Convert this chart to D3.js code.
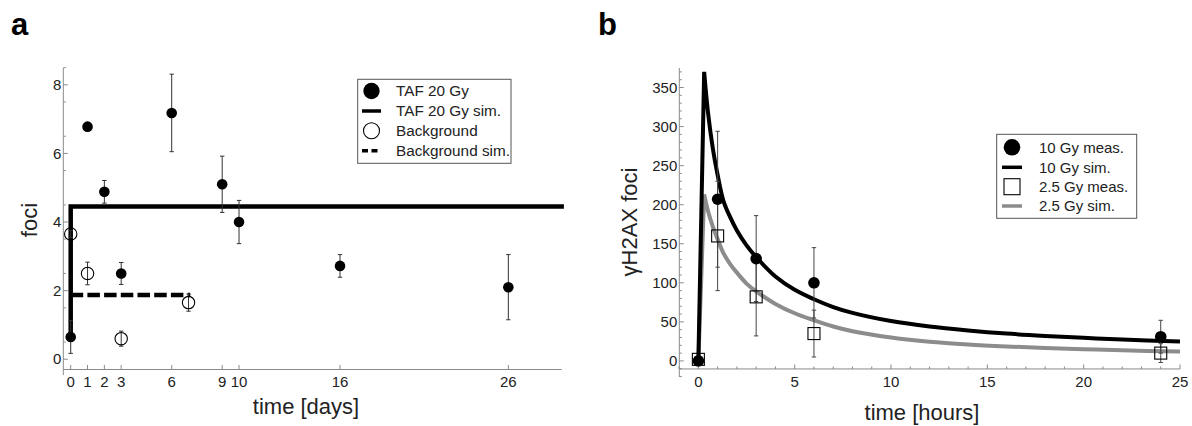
<!DOCTYPE html>
<html><head><meta charset="utf-8">
<script src="https://cdn.jsdelivr.net/npm/d3@7"></script>
<style>
body{margin:0;background:#fff;}
svg{display:block;font-family:"Liberation Sans",Arial,sans-serif;}
</style></head>
<body><svg id="c" width="1192" height="426"></svg>
<script>
// ---------- Panel a data ----------
const aXTicks = [0,1,2,3,6,9,10,16,26];
const aYTicks = [0,2,4,6,8];
const tafDays = [0,1,2,3,6,9,10,16,26];
const tafFoci = [0.65,6.78,4.88,2.5,7.18,5.1,4.0,2.72,2.1];
const tafErr  = [0.48,0.12,0.33,0.32,1.13,0.82,0.63,0.33,0.95];
const bgDays = [0,1,3,7];
const bgFoci = [3.65,2.5,0.6,1.65];
const bgErr  = [0.1,0.33,0.22,0.25];
const tafSimDays = [0,0,29.3];
const tafSimFoci = [0.65,4.45,4.45];
const bgSimDays = [0,7.1];
const bgSimFoci = [1.87,1.87];
const aLegend = ["TAF 20 Gy","TAF 20 Gy sim.","Background","Background sim."];

// ---------- Panel b data ----------
const bXTicks = [0,5,10,15,20,25];
const bYTicks = [0,50,100,150,200,250,300,350];
const measHours = [0,1,3,6,24];
const gy10Meas = [0,207,131,100,31];
const gy10Err  = [4,87,55,45,21];
const gy25Meas = [2,160,82,35,10];
const gy25Err  = [4,70,50,30,12];
const simHours = [0,0.3,0.5,0.75,1,1.3,1.65,2,2.5,3,4,5,6,7,8,10,12,14,16,18,20,22,25];
const gy10Sim  = [0,370,318,272,238,205,184,167,148,133,108,91,79,69,61.5,51,44,39,35,32,29.5,27.3,25];
const gy25Sim  = [0,213,192,172,156,138,124,113,99,89,73,61,52,44,38,30,24.5,21,18.5,16.5,15,13.5,12];
const bLegend = ["10 Gy meas.","10 Gy sim.","2.5 Gy meas.","2.5 Gy sim."];

const svg = d3.select("#c");
const AX = "#8a8a8a", TXT = "#222", ERR = "#333", GRAY = "#8c8c8c";

function drawAxes(g, x, y, xAxisVal, yAxisVal, xMajor, xMinor, yMajor, yMinor, xLabY){
  const [x0,x1] = x.range(), [y0,y1] = y.range();
  const xa = y(xAxisVal), ya = x(yAxisVal);
  g.append("line").attr("x1",x0).attr("x2",x1).attr("y1",xa).attr("y2",xa).attr("stroke",AX).attr("stroke-width",1);
  g.append("line").attr("x1",ya).attr("x2",ya).attr("y1",y0).attr("y2",y1).attr("stroke",AX).attr("stroke-width",1);
  xMinor.forEach(v=>g.append("line").attr("x1",x(v)).attr("x2",x(v)).attr("y1",xa).attr("y2",xa-2.5).attr("stroke",AX));
  xMajor.forEach(v=>g.append("line").attr("x1",x(v)).attr("x2",x(v)).attr("y1",xa).attr("y2",xa-4.5).attr("stroke",AX));
  yMinor.forEach(v=>g.append("line").attr("x1",ya).attr("x2",ya+2.5).attr("y1",y(v)).attr("y2",y(v)).attr("stroke",AX));
  yMajor.forEach(v=>g.append("line").attr("x1",ya).attr("x2",ya+4.5).attr("y1",y(v)).attr("y2",y(v)).attr("stroke",AX));
  g.selectAll(null).data(xMajor).join("text").attr("x",d=>x(d)).attr("y",xLabY)
    .attr("text-anchor","middle").attr("font-size",15).attr("fill",TXT).text(d=>d);
  g.selectAll(null).data(yMajor).join("text").attr("x",ya-2).attr("y",d=>y(d)).attr("dy","0.35em")
    .attr("text-anchor","end").attr("font-size",15).attr("fill",TXT).text(d=>d);
}

function errBars(g, xs, ys, es, x, y, color){
  xs.forEach((d,i)=>{
    const cx = x(d), t = y(ys[i]+es[i]), b = y(ys[i]-es[i]);
    g.append("line").attr("x1",cx).attr("x2",cx).attr("y1",t).attr("y2",b).attr("stroke",color).attr("stroke-width",1);
    [t,b].forEach(yy=>g.append("line").attr("x1",cx-2.2).attr("x2",cx+2.2).attr("y1",yy).attr("y2",yy).attr("stroke",color).attr("stroke-width",1));
  });
}

// ================= Panel a =================
{
  const g = svg.append("g");
  const x = d3.scaleLinear().domain([-0.44,29.17]).range([63.3,561.7]);
  const y = d3.scaleLinear().domain([-0.46,8.49]).range([375,68]);
  const yMin = d3.range(0.5,8.51,1);
  drawAxes(g,x,y,-0.3,-0.44,aXTicks,[],aYTicks,yMin,387);

  const line = d3.line().x(d=>x(d[0])).y(d=>y(d[1]));
  g.append("path").attr("d",line(tafSimDays.map((d,i)=>[d,tafSimFoci[i]])))
    .attr("fill","none").attr("stroke","#000").attr("stroke-width",4.5);
  g.append("path").attr("d",line(bgSimDays.map((d,i)=>[d,bgSimFoci[i]])))
    .attr("fill","none").attr("stroke","#000").attr("stroke-width",4.5).attr("stroke-dasharray","12.5,4.2");

  errBars(g,tafDays,tafFoci,tafErr,x,y,ERR);
  errBars(g,bgDays,bgFoci,bgErr,x,y,ERR);
  g.selectAll(null).data(tafDays).join("circle").attr("cx",d=>x(d)).attr("cy",(d,i)=>y(tafFoci[i])).attr("r",5.3).attr("fill","#000");
  g.selectAll(null).data(bgDays).join("circle").attr("cx",d=>x(d)).attr("cy",(d,i)=>y(bgFoci[i])).attr("r",6.2)
    .attr("fill","none").attr("stroke","#000").attr("stroke-width",1.1);

  g.append("text").attr("x",11).attr("y",35).attr("font-size",31).attr("font-weight","bold").text("a");
  g.append("text").attr("transform","translate(37,220) rotate(-90)").attr("text-anchor","middle").attr("font-size",22).attr("fill",TXT).text("foci");
  g.append("text").attr("x",306).attr("y",414).attr("text-anchor","middle").attr("font-size",22).attr("fill",TXT).text("time [days]");

  // legend
  const L = g.append("g");
  L.append("rect").attr("x",357.7).attr("y",79.3).attr("width",153.3).attr("height",84).attr("fill","#fff").attr("stroke","#555").attr("stroke-width",1);
  const rows = [91,111,130.7,150.7], sx = 371.5;
  L.append("circle").attr("cx",sx).attr("cy",rows[0]).attr("r",8.2).attr("fill","#000");
  L.append("line").attr("x1",sx-9.5).attr("x2",sx+9.5).attr("y1",rows[1]).attr("y2",rows[1]).attr("stroke","#000").attr("stroke-width",3.5);
  L.append("circle").attr("cx",sx).attr("cy",rows[2]).attr("r",8).attr("fill","none").attr("stroke","#000").attr("stroke-width",1.1);
  L.append("line").attr("x1",sx-9.5).attr("x2",sx+9.5).attr("y1",rows[3]).attr("y2",rows[3]).attr("stroke","#000").attr("stroke-width",3.5).attr("stroke-dasharray","6,3.5");
  aLegend.forEach((t,i)=>L.append("text").attr("x",396).attr("y",rows[i]).attr("dy","0.35em").attr("font-size",15.3).attr("fill",TXT).text(t));
}

// ================= Panel b =================
{
  const g = svg.append("g");
  const x = d3.scaleLinear().domain([-0.99,25]).range([679.3,1180]);
  const y = d3.scaleLinear().domain([-20.6,375]).range([377,68]);
  const xMin = d3.range(-1,25.01,1).filter(v=>v%5!==0);
  const yMin = d3.range(-20,371,10).filter(v=>v%50!==0);
  drawAxes(g,x,y,-10.3,-0.99,bXTicks,xMin,bYTicks,yMin,387);

  const smooth = d3.line().x(d=>x(d[0])).y(d=>y(d[1])).curve(d3.curveCatmullRom.alpha(0.5));
  const straight = d3.line().x(d=>x(d[0])).y(d=>y(d[1]));
  const simPath = (arr)=>{ // straight rise to peak, smooth decay after
    const pts = simHours.map((h,i)=>[h,arr[i]]);
    return straight(pts.slice(0,2)) + smooth(pts.slice(1)).replace(/^M/,"L");
  };
  g.append("path").attr("d",simPath(gy25Sim)).attr("fill","none").attr("stroke",GRAY).attr("stroke-width",4).attr("stroke-linejoin","miter");
  g.append("path").attr("d",simPath(gy10Sim)).attr("fill","none").attr("stroke","#000").attr("stroke-width",4).attr("stroke-linejoin","miter");

  errBars(g,measHours,gy10Meas,gy10Err,x,y,"#444");
  errBars(g,measHours,gy25Meas,gy25Err,x,y,"#444");
  g.selectAll(null).data(measHours).join("circle").attr("cx",d=>x(d)).attr("cy",(d,i)=>y(gy10Meas[i])).attr("r",5.8).attr("fill","#000");
  g.selectAll(null).data(measHours).join("rect").attr("x",d=>x(d)-6).attr("y",(d,i)=>y(gy25Meas[i])-6)
    .attr("width",12).attr("height",12).attr("fill","none").attr("stroke","#000").attr("stroke-width",1.1);

  g.append("text").attr("x",598).attr("y",35).attr("font-size",31).attr("font-weight","bold").text("b");
  g.append("text").attr("transform","translate(637,222) rotate(-90)").attr("text-anchor","middle").attr("font-size",22).attr("fill",TXT).text("γH2AX foci");
  g.append("text").attr("x",922).attr("y",420).attr("text-anchor","middle").attr("font-size",22).attr("fill",TXT).text("time [hours]");

  const L = g.append("g");
  L.append("rect").attr("x",996.7).attr("y",134.3).attr("width",140).attr("height",84).attr("fill","#fff").attr("stroke","#555").attr("stroke-width",1);
  const rows = [147.3,167.3,186.7,206], sx = 1012;
  L.append("circle").attr("cx",sx).attr("cy",rows[0]).attr("r",8.3).attr("fill","#000");
  L.append("line").attr("x1",sx-10).attr("x2",sx+10).attr("y1",rows[1]).attr("y2",rows[1]).attr("stroke","#000").attr("stroke-width",3.5);
  L.append("rect").attr("x",sx-8).attr("y",rows[2]-8).attr("width",16).attr("height",16).attr("fill","none").attr("stroke","#000").attr("stroke-width",1.1);
  L.append("line").attr("x1",sx-10).attr("x2",sx+10).attr("y1",rows[3]).attr("y2",rows[3]).attr("stroke",GRAY).attr("stroke-width",3.5);
  bLegend.forEach((t,i)=>L.append("text").attr("x",1039).attr("y",rows[i]).attr("dy","0.35em").attr("font-size",15).attr("fill",TXT).text(t));
}
</script></body></html>
